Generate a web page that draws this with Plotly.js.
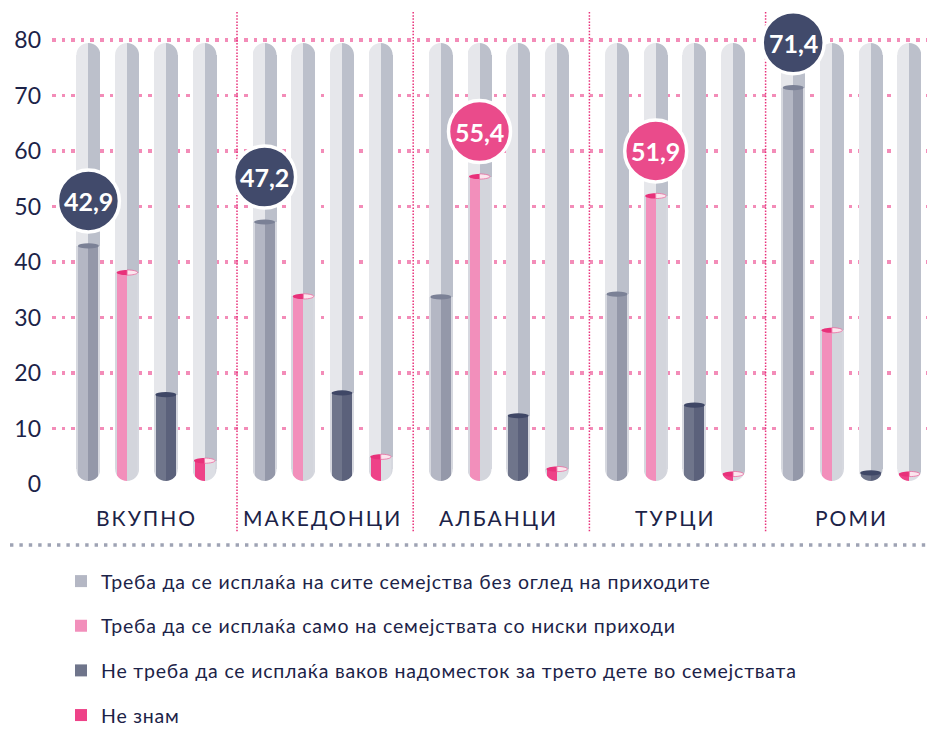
<!DOCTYPE html>
<html><head><meta charset="utf-8">
<script src="https://cdn.plot.ly/plotly-3.0.1.min.js"></script>
<style>html,body{margin:0;padding:0;background:#fff}#chart{width:927px;height:729px}
.legendtext{letter-spacing:0.8px}</style>
</head><body><div id="chart"></div>
<script>
// ---- data ----
const categories = ['ВКУПНО', 'МАКЕДОНЦИ', 'АЛБАНЦИ', 'ТУРЦИ', 'РОМИ'];
const seriesNames = [
  'Треба да се исплаќа на сите семејства без оглед на приходите',
  'Треба да се исплаќа само на семејствата со ниски приходи',
  'Не треба да се исплаќа ваков надоместок за трето дете во семејствата',
  'Не знам'
];
const allFamilies = [42.9, 47.2, 33.7, 34.2, 71.4];
const lowIncome   = [38.1, 33.8, 55.4, 51.9, 27.7];
const noBenefit   = [16.1, 16.4, 12.3, 14.2, 2.0];
const dontKnow    = [4.2, 4.9, 2.7, 1.8, 1.8];
const yTickVals = [0, 10, 20, 30, 40, 50, 60, 70, 80];
const series = [allFamilies, lowIncome, noBenefit, dontKnow];

// ---- style / layout constants ----
const X0 = 88.4, GP = 176.2, BP = 38.7;   // bar placement (x axis in px units)
const B0 = 0.55, TOP = 79.45;             // tube bottom / top (axis units)
const YMAX = 87.2;                        // headroom above 80 for the bubbles
const TW = 24, FW = 20;                   // tube width / fill width
const navy = '#1c2348';
const bgL = '#e6e7eb', bgR = '#bcc0cb', glass = '#d6d8df';
const fillCols = [['#b4b7c4', '#9498a9'], ['#f28fbb', '#d3d5dc'], ['#6f758b', '#5b617b'], ['#ee4288', '#dcdee4']];
const ellCols = ['#7b8196', null, '#3f4766', null];
const bubbleCols = ['#414a6b', '#ea4b8b', '#414a6b', '#ea4b8b'];
const FONT = 'Lato, "Noto Sans", sans-serif';

const xPos = (g, s) => X0 + g * GP + s * BP;

const traces = [];
const allXc = [];
categories.forEach((c, g) => series.forEach((_, s) => { allXc.push(xPos(g, s)); }));
const tubeH = allXc.map(() => TOP - B0);
traces.push({type: 'bar', x: allXc.map(x => x - TW / 4), y: tubeH, base: B0, width: TW / 2,
  marker: {color: bgL}, showlegend: false, hoverinfo: 'skip'});
traces.push({type: 'bar', x: allXc.map(x => x + TW / 4), y: tubeH, base: B0, width: TW / 2,
  marker: {color: bgR}, showlegend: false, hoverinfo: 'skip'});
const glassX = [], glassY = [];
series.forEach((vals, s) => vals.forEach((v, g) => { glassX.push(xPos(g, s)); glassY.push(v - B0); }));
traces.push({type: 'bar', x: glassX, y: glassY, base: B0, width: TW,
  marker: {color: glass}, showlegend: false, hoverinfo: 'skip'});

series.forEach((vals, s) => {
  const xs = categories.map((c, g) => xPos(g, s));
  traces.push({type: 'bar', name: seriesNames[s], legendgroup: 'g' + s,
    x: xs.map(x => x - FW / 4), y: vals.map(v => v - B0), base: B0, width: FW / 2,
    marker: {color: fillCols[s][0]}, hoverinfo: 'skip'});
  traces.push({type: 'bar', legendgroup: 'g' + s, showlegend: false,
    x: xs.map(x => x + FW / 4), y: vals.map(v => v - B0), base: B0, width: FW / 2,
    marker: {color: fillCols[s][1]}, hoverinfo: 'skip'});
});

// ---- shapes ----
const shapes = [];
const K = 0.5523;
function pxShape(x, y, path, fill, line) {
  return {type: 'path', xref: 'x', yref: 'y', xsizemode: 'pixel', ysizemode: 'pixel',
    xanchor: x, yanchor: y, path: path, fillcolor: fill,
    line: line || {width: 0}, layer: 'above'};
}
const r = TW / 2, c = r * K;
allXc.forEach(x => {
  shapes.push(pxShape(x, B0, `M-${r+1},-1 L-${r+1},${r} L-${r},${r} C-${r},${r-c} -${c},0 0,0 L0,-1 Z`, '#fff'));
  shapes.push(pxShape(x, B0, `M${r+1},-1 L${r+1},${r} L${r},${r} C${r},${r-c} ${c},0 0,0 L0,-1 Z`, '#fff'));
  shapes.push(pxShape(x, TOP, `M-${r+1},1 L-${r+1},-${r} L-${r},-${r} C-${r},-${r-c} -${c},0 0,0 L0,1 Z`, '#fff'));
  shapes.push(pxShape(x, TOP, `M${r+1},1 L${r+1},-${r} L${r},-${r} C${r},-${r-c} ${c},0 0,0 L0,1 Z`, '#fff'));
});
const ew = 10.5, eh = 2.6, ewc = ew * K, ehc = eh * K;
series.forEach((vals, s) => vals.forEach((v, g) => {
  const x = xPos(g, s);
  if (ellCols[s]) {
    shapes.push({type: 'circle', xref: 'x', yref: 'y', xsizemode: 'pixel', ysizemode: 'pixel',
      xanchor: x, yanchor: v, x0: -ew, x1: ew, y0: -eh, y1: eh,
      fillcolor: ellCols[s], line: {width: 0}, layer: 'above'});
  } else {
    shapes.push(pxShape(x, v, `M0,${eh} C-${ewc},${eh} -${ew},${ehc} -${ew},0 C-${ew},-${ehc} -${ewc},-${eh} 0,-${eh} Z`, '#e8317a'));
    shapes.push(pxShape(x, v, `M0,${eh} C${ewc},${eh} ${ew},${ehc} ${ew},0 C${ew},-${ehc} ${ewc},-${eh} 0,-${eh} Z`, '#fbe6ee',
      {width: 0.8, color: '#ec6a9f'}));
  }
}));
for (let g = 0; g < categories.length - 1; g++) {
  const sx = xPos(g, 3) + 32.5;
  shapes.push({type: 'line', xref: 'x', yref: 'paper', x0: sx, x1: sx, y0: 0.975, y1: -0.099,
    line: {color: '#e8317a', width: 1.5, dash: '1.5px,1.6px'}, layer: 'above'});
}
shapes.push({type: 'line', xref: 'paper', yref: 'paper', x0: -0.048, x1: 1, y0: -0.126, y1: -0.126,
  line: {color: '#9ea3b4', width: 3.4, dash: '3.4px,6px'}, layer: 'above'});

const annotations = [];
const BY = 45, BR = 31;
categories.forEach((cat, g) => {
  let best = 0;
  series.forEach((vals, s) => { if (vals[g] > series[best][g]) best = s; });
  const v = series[best][g], x = xPos(g, best);
  shapes.push({type: 'circle', xref: 'x', yref: 'y', xsizemode: 'pixel', ysizemode: 'pixel',
    xanchor: x, yanchor: v, x0: -BR, x1: BR, y0: BY - BR, y1: BY + BR,
    fillcolor: bubbleCols[best], line: {color: '#fff', width: 3.5}, layer: 'above'});
  annotations.push({xref: 'x', yref: 'y', x: x, y: v, yshift: BY, showarrow: false,
    text: v.toFixed(1).replace('.', ','), font: {family: FONT, size: 25, color: '#fff', weight: 'bold'}});
  annotations.push({xref: 'x', yref: 'paper', x: xPos(g, 1.5), y: -0.0682, yanchor: 'middle',
    showarrow: false, text: cat, font: {family: FONT, size: 21, color: navy}});
});

const layout = {
  width: 927, height: 729,
  margin: {l: 52, r: 0, t: 0, b: 245, autoexpand: false},
  paper_bgcolor: '#fff', plot_bgcolor: '#fff',
  barmode: 'overlay', bargap: 0,
  showlegend: true,
  legend: {x: 0.0103, y: -0.161, xanchor: 'left', yanchor: 'top', traceorder: 'grouped',
    tracegroupgap: 16.3, font: {family: FONT, size: 19.5, color: navy}, bgcolor: 'rgba(0,0,0,0)'},
  xaxis: {range: [52, 927], visible: false, fixedrange: true},
  yaxis: {range: [0, YMAX], tickvals: yTickVals, ticktext: yTickVals.map(String),
    showgrid: true, gridcolor: '#f38cb8', gridwidth: 3.6, griddash: '3.6px,6px',
    zeroline: false, showline: false, ticks: '', ticklabelstandoff: 10,
    tickfont: {family: FONT, size: 23, color: navy}, fixedrange: true},
  shapes: shapes,
  annotations: annotations,
  font: {family: FONT}
};
Plotly.newPlot('chart', traces, layout, {displayModeBar: false, staticPlot: true}).then(gd => {
  gd.querySelectorAll('.annotation-text').forEach(t => {
    if (categories.includes(t.textContent)) t.style.letterSpacing = '2px';
  });
});
</script>
</body></html>
